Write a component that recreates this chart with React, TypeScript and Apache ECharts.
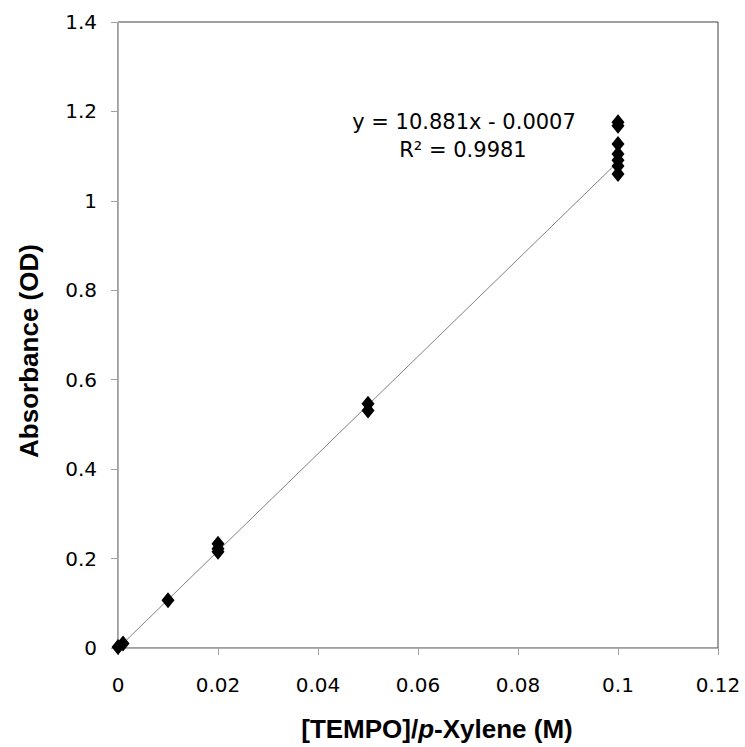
import React, { useEffect, useRef } from "react";
import * as echarts from "echarts";

const concentrations = [0, 0.001, 0.01, 0.02, 0.02, 0.02, 0.05, 0.05, 0.1, 0.1, 0.1, 0.1, 0.1, 0.1, 0.1];
const absorbances = [0.002, 0.01, 0.107, 0.233, 0.222, 0.215, 0.546, 0.531, 1.176, 1.168, 1.127, 1.105, 1.091, 1.078, 1.06];
const xTicks = [0, 0.02, 0.04, 0.06, 0.08, 0.1, 0.12];
const yTicks = [0, 0.2, 0.4, 0.6, 0.8, 1, 1.2, 1.4];
const slope = 10.881;
const intercept = -0.0007;
const fitRange = [0, 0.1];
const equationText = "y = 10.881x - 0.0007";
const r2Text = "R² = 0.9981";

export default function App() {
  const ref = useRef<HTMLDivElement>(null);
  useEffect(() => {
    if (!ref.current) return;
    const chart = echarts.init(ref.current, null, { renderer: "svg" });
    const points = concentrations.map((x, i) => [x, absorbances[i]]);
    const fit = fitRange.map((x) => [x, slope * x + intercept]);
    chart.setOption({
      animation: false,
      backgroundColor: "#ffffff",
      grid: {
        left: 118,
        top: 22,
        width: 600,
        height: 626,
        show: true,
        borderColor: "#404040",
        borderWidth: 1,
        backgroundColor: "transparent",
      },
      xAxis: {
        type: "value",
        min: xTicks[0],
        max: xTicks[xTicks.length - 1],
        interval: 0.02,
        splitLine: { show: false },
        axisLine: { show: true, lineStyle: { color: "#b0b0b0", width: 1 } },
        axisTick: { show: true, inside: false, length: 7, lineStyle: { color: "#a0a0a0" } },
        axisLabel: {
          margin: 27,
          color: "#000",
          fontFamily: "DejaVu Sans",
          fontSize: 20,
          formatter: (v: number) => String(Number(v.toFixed(4))),
        },
      },
      yAxis: {
        type: "value",
        min: yTicks[0],
        max: yTicks[yTicks.length - 1],
        interval: 0.2,
        splitLine: { show: false },
        axisLine: { show: true, lineStyle: { color: "#b0b0b0", width: 1 } },
        axisTick: { show: true, inside: false, length: 7, lineStyle: { color: "#a0a0a0" } },
        axisLabel: {
          margin: 21,
          color: "#000",
          fontFamily: "DejaVu Sans",
          fontSize: 20,
          formatter: (v: number) => String(Number(v.toFixed(4))),
        },
      },
      series: [
        {
          type: "line",
          data: fit,
          symbol: "none",
          lineStyle: { color: "#808080", width: 1 },
          z: 1,
        },
        {
          type: "scatter",
          data: points,
          symbol: "diamond",
          symbolSize: [13, 16],
          itemStyle: { color: "#000000", opacity: 1 },
          z: 3,
        },
      ],
      graphic: [
        {
          type: "text",
          x: 464,
          y: 122,
          style: {
            text: equationText,
            fontFamily: "DejaVu Sans",
            fontSize: 21,
            fill: "#000",
            textAlign: "center",
            textVerticalAlign: "middle",
          },
        },
        {
          type: "text",
          x: 463,
          y: 150,
          style: {
            text: r2Text,
            fontFamily: "DejaVu Sans",
            fontSize: 21,
            fill: "#000",
            textAlign: "center",
            textVerticalAlign: "middle",
          },
        },
        {
          type: "text",
          x: 29,
          y: 351,
          rotation: Math.PI / 2,
          style: {
            text: "Absorbance (OD)",
            fontFamily: "Liberation Sans",
            fontWeight: "bold",
            fontSize: 26,
            fill: "#000",
            textAlign: "center",
            textVerticalAlign: "middle",
          },
        },
        {
          type: "text",
          x: 437,
          y: 729,
          style: {
            text: "{b|[TEMPO]/}{i|p}{b|-Xylene (M)}",
            textAlign: "center",
            textVerticalAlign: "middle",
            rich: {
              b: { fontFamily: "Liberation Sans", fontWeight: "bold", fontSize: 26, fill: "#000" },
              i: { fontFamily: "Liberation Sans", fontWeight: "bold", fontStyle: "italic", fontSize: 26, fill: "#000" },
            },
          },
        },
      ],
    });
    return () => chart.dispose();
  }, []);
  return (
    <div
      ref={ref}
      style={{ position: "fixed", left: 0, top: 0, width: 745, height: 747, background: "#fff" }}
    />
  );
}
